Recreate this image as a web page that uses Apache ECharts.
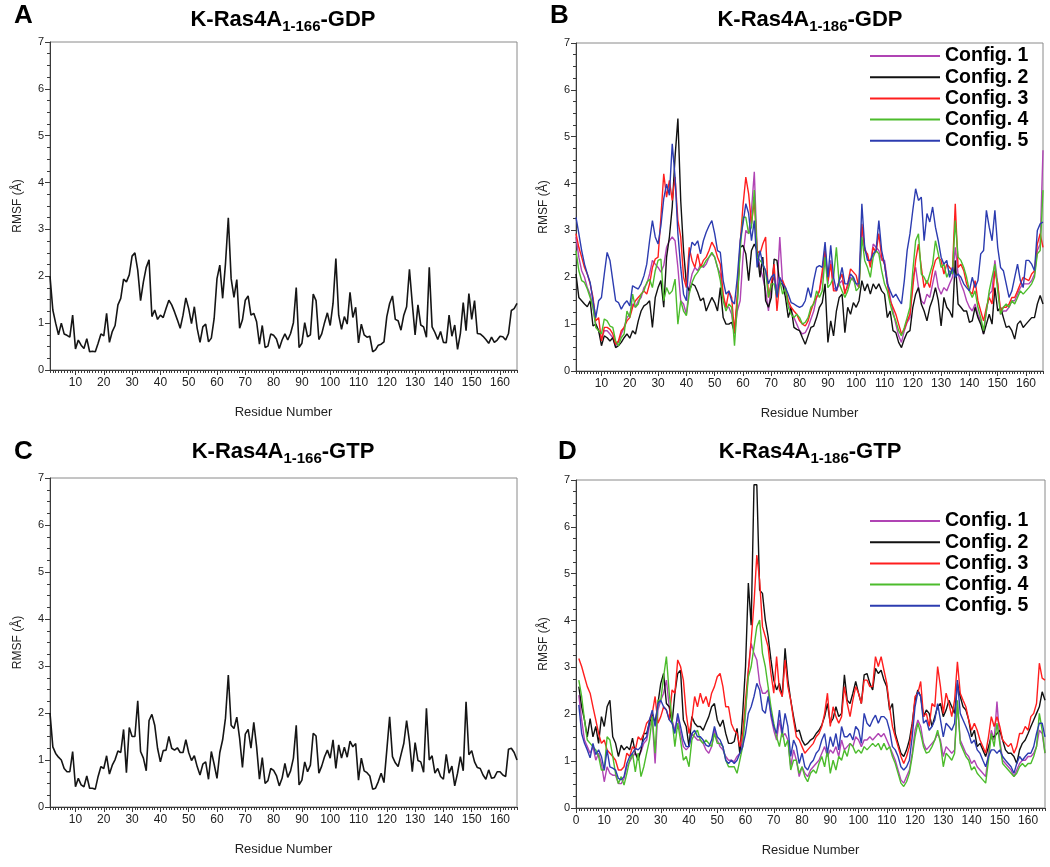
<!DOCTYPE html>
<html><head><meta charset="utf-8">
<script src="https://cdn.jsdelivr.net/npm/echarts@6/dist/echarts.min.js"></script>
<style>html,body{margin:0;padding:0;background:#fff}#c{width:1050px;height:867px}</style>
</head><body><div id="c"></div>
<script>
// ---------------- DATA ----------------
const residues = Array.from({length: 166}, (_, i) => i + 1);
const xTicks1 = [10,20,30,40,50,60,70,80,90,100,110,120,130,140,150,160];
const xTicks0 = [0,10,20,30,40,50,60,70,80,90,100,110,120,130,140,150,160];
const configNames = ['Config. 1','Config. 2','Config. 3','Config. 4','Config. 5'];
const configColors = ['#b044b4','#111111','#ff1e1e','#4cbc2c','#2c3cb0'];

// Panel A: K-Ras4A 1-166 GDP
const rmsfA = [2.0,1.28,1.0,0.75,1.0,0.77,0.74,0.7,1.17,0.45,
0.64,0.53,0.46,0.67,0.39,0.4,0.39,0.57,0.77,0.73,
1.21,0.59,0.82,0.95,1.39,1.53,1.94,1.88,2.03,2.43,
2.5,2.13,1.48,1.88,2.19,2.35,1.14,1.28,1.08,1.17,
1.12,1.31,1.49,1.39,1.24,1.07,0.89,1.17,1.54,1.31,
0.99,1.35,0.89,0.59,0.92,0.98,0.6,0.68,1.1,1.95,
2.24,1.53,2.27,3.25,1.95,1.55,1.93,0.89,1.07,1.49,
1.58,1.17,1.21,1.03,0.55,0.95,0.48,0.51,0.77,0.74,
0.66,0.46,0.64,0.77,0.64,0.78,1.01,1.76,0.48,0.57,
1.01,0.71,0.75,1.62,1.48,0.65,0.77,1.01,1.22,0.95,
1.42,2.38,1.17,0.87,1.14,0.98,1.66,1.12,1.34,0.58,
0.98,0.75,0.7,0.72,0.39,0.43,0.53,0.55,0.6,1.14,
1.42,1.58,1.08,1.05,0.85,1.17,1.35,2.15,1.42,0.75,
1.39,0.96,0.92,0.7,2.19,0.92,0.8,0.65,0.82,0.59,
0.58,1.17,0.72,0.96,0.44,0.78,1.44,0.84,1.63,1.08,
1.48,0.78,0.77,0.72,0.65,0.57,0.7,0.59,0.64,0.72,
0.71,0.64,0.78,1.27,1.31,1.42];

// Panel C: K-Ras4A 1-166 GTP
const rmsfC = [2.0,1.28,1.14,1.06,1.0,0.82,0.75,0.75,1.18,0.43,
0.61,0.47,0.43,0.66,0.4,0.4,0.38,0.65,0.86,0.82,
1.09,0.7,0.89,1.01,1.19,1.16,1.65,0.73,1.69,1.5,
1.5,2.26,1.18,1.04,0.77,1.84,1.97,1.74,1.25,0.96,
1.2,1.21,1.5,1.25,1.21,1.26,1.16,1.16,1.43,1.16,
0.99,1.09,0.86,0.68,0.91,0.96,0.59,1.18,0.91,0.61,
1.16,1.43,1.89,2.81,1.74,1.67,1.91,1.46,0.84,1.55,
1.65,1.25,1.8,1.28,0.59,1.05,0.5,0.56,0.82,0.78,
0.67,0.45,0.61,0.93,0.63,0.77,1.04,1.74,0.47,0.57,
0.96,0.75,0.89,1.57,1.51,0.72,0.87,1.07,1.21,1.04,
1.43,0.82,1.32,1.04,1.27,1.06,1.4,1.28,1.35,0.57,
1.04,0.77,0.73,0.66,0.38,0.4,0.54,0.72,0.52,1.21,
1.92,1.07,0.94,0.86,1.11,1.35,1.84,1.39,0.75,1.37,
0.99,0.96,0.74,2.1,1.0,1.09,0.72,0.82,0.65,0.59,
1.12,0.72,0.87,0.45,0.72,1.07,0.77,2.24,1.11,1.2,
0.96,0.84,0.82,0.68,0.59,0.79,0.61,0.63,0.75,0.75,
0.68,0.65,1.23,1.25,1.16,1.0];

// Panel B: K-Ras4A 1-186 GDP, configurations 1..5
const gdpConfig1 = [2.86,2.43,2.14,2.0,1.78,1.64,1.36,1.0,0.86,0.68,
0.86,0.86,0.79,0.71,0.54,0.61,0.79,0.93,1.14,1.21,
1.43,1.36,1.5,1.57,1.78,1.86,2.07,2.36,2.28,2.21,
2.11,2.25,2.64,2.78,2.86,2.78,2.21,1.5,1.43,1.21,
1.78,2.07,2.21,2.14,2.28,2.21,2.28,2.43,2.5,2.43,
2.21,2.07,1.57,1.36,1.36,1.21,0.79,1.28,1.5,2.43,
3.0,2.93,3.43,4.25,2.57,2.21,2.0,1.71,1.28,1.86,
2.0,1.71,2.86,1.86,1.71,1.43,1.28,1.14,1.0,0.86,
0.79,0.82,0.93,1.11,1.28,1.57,1.71,2.0,2.57,1.86,
2.36,1.78,1.71,1.86,1.93,1.71,1.78,2.0,1.93,1.86,
1.78,3.07,2.64,2.43,2.28,2.71,2.64,2.57,2.36,2.36,
1.93,1.57,1.28,1.0,0.75,0.61,0.86,1.04,1.14,2.0,
2.21,1.78,1.5,1.43,1.64,1.57,1.86,2.14,1.78,1.64,
1.78,1.71,1.86,2.0,2.64,2.07,1.86,1.71,1.5,1.36,
1.28,1.43,1.21,1.07,0.79,1.28,1.64,1.71,2.36,1.86,
1.21,1.28,1.28,1.36,1.5,1.5,1.64,1.78,1.86,1.86,
1.86,1.93,2.07,2.57,2.71,4.71];
const gdpConfig2 = [2.07,1.57,1.5,1.43,1.37,1.5,0.96,1.0,0.86,0.54,
0.75,0.71,0.64,0.71,0.5,0.54,0.61,0.71,0.79,0.7,
0.86,0.79,1.07,1.28,1.39,1.43,1.5,0.93,1.57,1.78,
1.93,1.36,2.43,2.86,3.5,4.57,5.39,3.64,2.57,1.86,
1.71,1.86,1.82,1.68,1.5,1.56,1.28,1.43,1.57,1.46,
1.28,1.78,1.14,1.0,1.0,1.04,0.82,1.5,2.64,2.68,
2.5,1.93,2.57,2.71,2.57,2.0,2.43,1.5,1.36,1.57,
2.39,2.36,1.86,1.86,1.57,1.14,1.36,0.93,0.89,0.86,
0.71,0.57,0.75,0.93,0.96,1.14,1.36,1.46,1.86,0.61,
1.07,0.75,1.28,1.57,1.64,0.82,1.36,1.21,1.46,1.36,
1.5,1.93,1.71,1.86,1.64,1.86,1.75,1.86,1.71,1.64,
1.14,1.28,0.86,0.82,0.61,0.5,0.68,0.82,0.86,1.36,
1.64,1.78,1.43,1.28,1.07,1.36,1.53,1.78,1.5,0.96,
1.57,1.36,1.28,1.14,2.36,1.43,1.36,1.28,1.28,1.04,
1.07,1.36,1.14,1.0,0.79,1.0,1.21,1.0,1.78,1.28,
1.36,1.14,0.93,0.96,0.86,0.68,1.0,1.07,0.93,1.0,
1.07,1.14,1.14,1.43,1.61,1.43];
const gdpConfig3 = [2.93,2.64,2.43,2.21,2.07,1.86,1.57,1.07,1.14,0.64,
0.93,0.93,0.89,0.79,0.57,0.64,0.86,0.93,1.07,1.14,
1.36,1.5,1.57,1.64,1.71,1.64,1.86,2.21,2.39,2.43,
3.28,4.21,3.71,4.07,3.64,4.14,3.21,2.86,2.0,1.78,
2.64,2.36,2.21,2.5,2.21,2.36,2.43,2.57,2.75,2.64,
2.43,2.28,1.64,1.36,1.71,1.57,0.82,1.64,2.71,3.53,
4.14,3.78,3.14,3.64,2.57,2.5,2.71,2.86,1.57,1.86,
2.28,1.28,1.93,1.93,1.78,1.5,1.36,1.28,1.21,1.07,
1.0,0.96,1.07,1.28,1.46,1.57,1.71,2.14,2.57,1.93,
2.28,1.71,1.71,1.93,2.07,1.64,1.86,2.18,2.11,2.04,
1.78,3.14,2.57,2.5,2.21,2.64,2.53,2.93,2.43,2.28,
1.86,1.5,1.36,1.21,1.0,0.79,0.89,1.07,1.21,1.78,
2.36,2.71,2.21,1.78,1.93,1.78,2.14,2.36,2.43,2.36,
2.07,2.28,2.21,2.14,3.57,2.21,2.28,2.14,1.86,1.71,
1.64,1.93,1.5,1.28,1.07,1.36,1.57,1.43,2.14,1.86,
1.28,1.36,1.36,1.43,1.57,1.57,1.71,1.86,2.0,1.96,
1.93,2.07,2.14,2.71,2.93,2.64];
const gdpConfig4 = [2.57,2.14,1.93,1.89,1.75,1.57,1.36,0.93,0.86,0.79,
1.11,1.07,0.96,0.93,0.64,0.54,0.71,0.79,1.28,1.14,
1.64,1.36,1.43,1.64,1.71,1.89,1.96,1.78,2.14,2.36,
2.39,1.5,1.78,1.64,1.71,1.96,1.0,1.5,1.28,1.18,
1.64,1.89,2.03,2.11,2.21,2.25,2.36,2.43,2.53,2.43,
2.21,1.93,1.5,1.28,1.43,1.36,0.54,1.43,2.57,3.28,
3.28,2.93,3.07,3.86,2.43,2.36,2.28,2.14,1.57,1.86,
1.86,1.57,1.93,1.64,1.78,1.36,1.21,1.14,1.21,1.14,
1.0,1.04,1.14,1.36,1.43,1.71,1.57,1.71,2.43,1.78,
1.86,2.0,2.64,1.86,1.71,1.57,1.71,1.93,2.0,1.71,
1.78,2.86,2.36,2.21,2.0,2.43,2.57,2.5,2.14,1.86,
1.71,1.43,1.21,1.07,0.86,0.75,0.93,1.14,1.36,2.14,
2.78,2.93,2.07,2.0,1.86,2.07,2.28,2.78,2.5,2.21,
2.28,2.0,2.14,2.07,3.21,2.43,2.36,2.21,2.0,1.71,
1.57,1.71,1.36,1.14,0.86,1.28,1.71,2.0,2.28,1.71,
1.21,1.36,1.43,1.36,1.5,1.43,1.57,1.71,1.64,1.71,
1.78,1.86,2.0,2.5,2.57,3.86];
const gdpConfig5 = [3.28,2.93,2.57,2.28,2.07,1.89,1.5,1.14,1.5,1.57,
2.07,2.53,2.36,1.93,1.5,1.46,1.32,1.43,1.5,1.39,
1.82,1.78,1.75,1.86,2.03,2.28,2.78,3.21,2.86,2.71,
3.1,3.68,3.99,3.75,4.85,4.14,2.93,2.21,1.64,1.5,
2.43,2.75,2.68,2.78,2.5,2.78,2.96,3.1,3.21,2.93,
2.57,2.53,1.93,1.64,1.71,1.5,1.43,2.0,2.78,3.14,
3.57,3.36,2.78,3.21,2.21,2.57,2.28,2.14,1.86,2.0,
2.07,1.57,2.0,1.86,1.78,1.64,1.46,1.43,1.39,1.36,
1.39,1.5,1.78,1.57,1.93,2.21,2.25,2.21,2.75,2.0,
2.68,2.0,1.71,1.93,2.21,1.86,1.86,2.07,2.0,1.86,
1.86,3.57,2.64,2.36,2.36,2.5,2.57,3.21,2.57,2.28,
1.86,1.71,1.57,1.64,1.53,1.43,1.93,2.57,2.93,3.43,
3.89,3.64,3.71,2.78,3.36,3.18,3.5,3.07,2.78,2.43,
2.28,2.36,2.0,2.21,2.0,2.07,2.0,1.86,1.78,1.71,
2.0,1.78,1.93,2.5,2.57,3.43,3.07,2.78,3.43,2.64,
2.21,2.14,1.86,1.57,1.71,2.0,2.28,1.93,1.78,2.36,
2.36,2.28,2.14,3.0,3.14,3.18];

// Panel D: K-Ras4A 1-186 GTP, configurations 1..5
const gtpConfig1 = [2.41,1.88,1.45,1.31,1.17,1.31,1.02,1.17,0.95,0.56,
0.88,0.74,0.7,0.7,0.52,0.52,0.63,0.88,0.99,1.1,
1.17,1.1,1.2,1.38,1.45,1.74,1.88,0.95,2.09,2.3,
2.45,2.73,2.16,1.88,1.66,1.95,1.59,1.31,1.24,1.31,
1.59,1.52,1.45,1.45,1.38,1.24,1.17,1.31,1.66,1.45,
1.31,1.24,1.1,1.02,1.02,0.99,1.1,1.17,1.45,2.02,
2.94,3.51,3.3,3.16,2.66,2.45,2.45,2.52,1.95,1.66,
1.45,1.88,1.52,1.59,1.45,0.88,1.24,1.02,0.67,0.88,
0.74,0.67,0.81,0.88,0.95,1.02,1.17,1.31,1.1,1.24,
1.17,1.31,1.1,1.45,1.24,1.31,1.38,1.31,1.52,1.45,
1.31,1.45,1.45,1.52,1.45,1.52,1.59,1.52,1.59,1.45,
1.31,1.17,1.02,0.81,0.6,0.53,0.67,0.81,1.17,1.66,
1.88,1.74,1.38,1.24,1.31,1.38,1.45,1.59,1.45,1.1,
1.31,1.24,1.17,1.24,2.23,1.45,1.31,1.17,1.1,0.95,
1.02,0.88,0.81,0.74,0.67,1.17,1.66,1.45,2.27,1.45,
1.02,0.95,0.88,0.81,0.67,0.81,0.95,1.02,1.02,1.1,
1.1,1.17,1.31,1.66,1.59,1.17];
const gtpConfig2 = [2.59,2.16,1.88,1.52,1.91,1.52,1.74,1.38,1.95,1.74,
2.16,2.3,1.52,1.38,1.1,1.34,1.24,1.31,1.24,1.49,
1.17,1.02,1.24,1.59,1.59,1.81,2.02,1.81,2.23,2.66,
2.87,2.23,2.16,1.81,2.45,2.87,2.94,1.88,1.74,1.31,
1.95,1.81,1.74,1.74,1.66,1.81,1.95,2.16,2.23,1.88,
1.74,1.88,1.59,1.38,1.38,1.42,1.7,1.16,2.02,3.02,
4.8,3.9,6.9,6.9,4.65,4.58,4.01,3.66,3.16,2.73,
2.52,2.66,2.38,3.41,2.73,2.3,1.95,1.63,1.66,1.45,
1.34,1.38,1.45,1.49,1.59,1.66,1.77,1.95,2.23,1.81,
1.91,2.16,1.95,2.02,2.84,2.3,2.23,2.45,2.7,2.45,
2.23,2.84,2.87,2.66,2.52,2.98,2.87,2.94,2.73,2.59,
2.09,2.23,1.59,1.38,1.17,1.1,1.24,1.45,1.81,2.3,
2.52,2.38,1.95,2.09,2.02,1.74,1.95,2.16,2.23,1.95,
2.09,2.3,2.16,2.02,2.66,2.38,2.16,2.09,1.88,1.52,
1.66,1.31,1.38,1.24,1.1,1.31,1.52,1.52,1.59,1.66,
1.45,1.24,1.17,1.17,1.1,0.95,1.24,1.38,1.45,1.59,
1.74,1.88,2.02,2.16,2.48,2.3];
const gtpConfig3 = [3.19,3.02,2.8,2.59,2.45,2.16,1.88,1.59,1.38,1.45,
1.24,1.17,1.1,1.02,0.81,0.81,0.88,1.17,1.1,1.31,
1.24,1.52,1.45,1.59,1.81,1.88,2.02,2.38,1.81,1.95,
2.16,2.09,1.88,2.52,2.45,3.16,3.02,2.73,2.02,1.59,
1.88,2.38,2.16,2.45,2.23,2.38,2.16,2.45,2.59,2.8,
2.87,2.59,2.16,2.16,1.8,1.66,1.59,1.31,1.59,2.3,
2.94,3.58,4.37,5.4,4.86,3.87,3.66,3.44,2.87,2.45,
3.23,2.52,2.38,3.16,2.59,2.3,1.88,1.52,1.45,1.31,
1.17,1.24,1.31,1.38,1.52,1.59,1.74,2.02,2.45,1.74,
2.16,1.95,1.81,1.95,2.59,2.23,1.95,2.3,2.59,2.45,
2.23,2.73,2.73,2.59,2.59,3.23,3.02,3.23,2.94,2.66,
2.16,1.74,1.52,1.31,1.1,0.95,1.1,1.31,1.74,2.38,
2.45,2.7,1.95,2.02,1.74,2.23,2.16,3.02,2.59,2.02,
2.45,2.23,1.95,2.3,3.12,2.45,2.3,2.16,1.88,1.66,
1.81,1.66,1.45,1.31,1.17,1.52,1.95,1.74,1.95,1.74,
1.45,1.38,1.31,1.38,1.17,1.31,1.59,1.59,1.74,1.66,
1.95,2.02,2.23,3.09,2.77,2.73];
const gtpConfig4 = [2.73,2.38,1.88,1.45,1.38,1.31,1.24,1.1,0.81,0.81,
1.52,1.45,1.1,0.74,0.52,0.67,0.49,0.74,1.02,1.17,
0.77,1.17,0.67,0.88,1.17,1.45,1.95,1.17,2.3,2.3,
2.8,3.23,2.45,1.88,1.31,1.81,1.45,1.02,1.1,0.88,
1.45,1.59,1.66,1.45,1.38,1.45,1.38,1.31,1.59,1.38,
1.38,1.31,1.02,0.88,0.88,0.88,0.74,1.02,1.31,2.09,
2.8,3.02,3.44,3.87,4.01,3.3,3.02,2.59,2.16,1.81,
1.52,1.31,1.66,1.31,1.45,0.81,1.02,1.02,0.74,0.88,
0.67,0.56,0.74,0.81,0.74,0.95,1.1,0.88,1.24,0.74,
1.02,0.81,1.1,1.02,1.24,1.1,1.38,1.31,1.17,1.24,
1.17,1.31,1.24,1.31,1.38,1.31,1.38,1.24,1.38,1.24,
1.31,1.1,0.95,0.74,0.53,0.46,0.56,0.74,1.1,1.52,
1.81,1.59,1.31,1.17,1.2,1.31,1.45,1.66,1.38,0.88,
1.17,1.1,1.02,1.17,2.3,1.38,1.24,1.1,1.02,0.81,
0.88,0.74,0.67,0.6,0.53,1.02,1.59,1.31,1.81,1.38,
0.95,0.88,0.81,0.74,0.67,0.74,0.88,0.95,0.88,0.95,
0.95,1.1,1.31,2.02,1.66,1.17];
const gtpConfig5 = [2.2,1.59,1.38,1.24,1.07,1.38,1.14,1.24,1.1,0.81,
1.24,0.88,0.85,0.81,0.63,0.6,0.67,0.95,1.1,1.17,
1.27,1.24,1.31,1.45,1.52,1.88,2.09,1.74,2.23,2.3,
2.16,2.09,1.88,1.81,1.59,2.02,1.74,1.45,1.31,1.31,
1.59,1.66,1.52,1.52,1.45,1.34,1.31,1.45,1.74,1.52,
1.45,1.31,1.02,0.95,1.02,0.95,1.02,1.17,1.31,1.59,
2.02,2.16,2.38,2.66,2.52,2.09,2.02,2.38,2.02,1.74,
1.59,2.09,1.59,2.02,1.74,1.1,1.45,1.31,0.95,1.17,
0.88,0.81,0.95,1.02,1.17,1.24,1.45,1.59,1.17,1.52,
1.31,1.59,1.24,1.74,1.52,1.52,1.59,1.45,1.74,1.66,
1.38,2.02,1.81,1.74,1.88,1.98,1.81,1.95,1.95,1.88,
1.66,1.31,1.24,1.1,0.88,0.81,0.88,1.02,1.52,2.16,
2.48,2.38,1.81,1.88,1.66,1.74,1.88,2.23,1.88,1.52,
1.81,1.74,1.66,1.81,2.73,2.02,1.88,1.74,1.59,1.38,
1.45,1.24,1.17,1.02,0.88,1.1,1.24,1.24,1.17,1.24,
1.1,1.02,0.95,0.88,0.74,0.95,1.1,1.02,1.1,1.17,
1.17,1.31,1.59,1.81,1.81,1.52];

const gdpConfigs = [gdpConfig1, gdpConfig2, gdpConfig3, gdpConfig4, gdpConfig5];
const gtpConfigs = [gtpConfig1, gtpConfig2, gtpConfig3, gtpConfig4, gtpConfig5];

// ---------------- CHART ----------------
const FONT = '"Liberation Sans", Arial, Helvetica, sans-serif';
const AX = '#3a3a3a';
const pairs = arr => residues.map((r, i) => [r, arr[i]]);

const grids = [
  {left: 50,  top: 42,  width: 467, height: 328},
  {left: 576, top: 43,  width: 467, height: 328},
  {left: 50,  top: 478, width: 467, height: 329},
  {left: 576, top: 480, width: 469, height: 328}
];
const xMin = [1, 1, 1, 0];
const xLabelSets = [xTicks1, xTicks1, xTicks1, xTicks0];

const xAxes = [], yAxes = [];
grids.forEach((g, i) => {
  xAxes.push({
    gridIndex: i, type: 'value', position: 'bottom', min: xMin[i], max: 166,
    axisLine: {show: true, onZero: false, lineStyle: {color: AX, width: 1}},
    axisTick: {show: true, customValues: xLabelSets[i], length: 5, lineStyle: {color: AX}},
    axisLabel: {customValues: xLabelSets[i], fontSize: 12, color: '#222', fontFamily: FONT, margin: 7},
    splitLine: {show: false},
    name: 'Residue Number', nameLocation: 'middle', nameGap: 36,
    nameTextStyle: {fontSize: 13, color: '#222', fontFamily: FONT}
  });
  xAxes.push({
    gridIndex: i, type: 'value', position: 'bottom', min: xMin[i], max: 166, interval: 1,
    axisLine: {show: false}, axisLabel: {show: false}, splitLine: {show: false},
    axisTick: {show: true, length: 3, lineStyle: {color: AX}}
  });
  yAxes.push({
    gridIndex: i, type: 'value', min: 0, max: 7, interval: 1,
    axisLine: {show: true, onZero: false, lineStyle: {color: AX, width: 1}},
    axisTick: {show: true, length: 5, lineStyle: {color: AX}},
    minorTick: {show: true, splitNumber: 4, length: 3, lineStyle: {color: AX}},
    axisLabel: {fontSize: 11, color: '#222', fontFamily: FONT, margin: 6},
    splitLine: {show: false}, minorSplitLine: {show: false},
    name: 'RMSF (Å)', nameLocation: 'middle', nameGap: 26,
    nameTextStyle: {fontSize: 12, color: '#222', fontFamily: FONT}
  });
});

const series = [];
series.push({type: 'line', name: 'GDP166', xAxisIndex: 0, yAxisIndex: 0, data: pairs(rmsfA),
  symbol: 'none', lineStyle: {color: '#151515', width: 1.6}, itemStyle: {color: '#151515'}});
series.push({type: 'line', name: 'GTP166', xAxisIndex: 4, yAxisIndex: 2, data: pairs(rmsfC),
  symbol: 'none', lineStyle: {color: '#151515', width: 1.6}, itemStyle: {color: '#151515'}});
gdpConfigs.forEach((arr, k) => series.push({type: 'line', name: configNames[k], xAxisIndex: 2, yAxisIndex: 1,
  data: pairs(arr), symbol: 'none', lineStyle: {color: configColors[k], width: 1.4}, itemStyle: {color: configColors[k]}}));
gtpConfigs.forEach((arr, k) => series.push({type: 'line', name: configNames[k], xAxisIndex: 6, yAxisIndex: 3,
  data: pairs(arr), symbol: 'none', lineStyle: {color: configColors[k], width: 1.4}, itemStyle: {color: configColors[k]}}));

const rich = {
  a: {fontSize: 22, fontWeight: 'bold', color: '#000', fontFamily: FONT, lineHeight: 28},
  s: {fontSize: 15, fontWeight: 'bold', color: '#000', fontFamily: FONT, verticalAlign: 'bottom'}
};
const letterStyle = {fontSize: 26, fontWeight: 'bold', color: '#000', fontFamily: FONT};
const mkTitle = (txt, cx, top) => ({text: txt, left: cx, top: top, textAlign: 'center', padding: 0, textStyle: {rich: rich}});

const legendBase = {
  data: configNames, orient: 'vertical', icon: 'rect', itemWidth: 70, itemHeight: 2, itemGap: 0, padding: 0,
  selectedMode: false,
  textStyle: {fontSize: 19.5, fontWeight: 'bold', color: '#000', fontFamily: FONT, lineHeight: 21.2}
};

const option = {
  animation: false,
  backgroundColor: '#fff',
  grid: grids.map(g => Object.assign({show: true, borderColor: '#8a8a8a', borderWidth: 1, backgroundColor: 'transparent'}, g)),
  xAxis: xAxes,
  yAxis: yAxes,
  title: [
    {text: 'A', left: 14, top: 3, padding: 0, textStyle: letterStyle},
    {text: 'B', left: 550, top: 3, padding: 0, textStyle: letterStyle},
    {text: 'C', left: 14, top: 439, padding: 0, textStyle: letterStyle},
    {text: 'D', left: 558, top: 439, padding: 0, textStyle: letterStyle},
    mkTitle('{a|K-Ras4A}{s|1-166}{a|-GDP}', 283, 6),
    mkTitle('{a|K-Ras4A}{s|1-186}{a|-GDP}', 810, 6),
    mkTitle('{a|K-Ras4A}{s|1-166}{a|-GTP}', 283, 438),
    mkTitle('{a|K-Ras4A}{s|1-186}{a|-GTP}', 810, 438)
  ],
  legend: [
    Object.assign({left: 870, top: 45.4}, legendBase),
    Object.assign({left: 870, top: 510.4}, legendBase)
  ],
  series: series
};

const chart = echarts.init(document.getElementById('c'), null, {renderer: 'canvas'});
chart.setOption(option);
</script>
</body></html>
